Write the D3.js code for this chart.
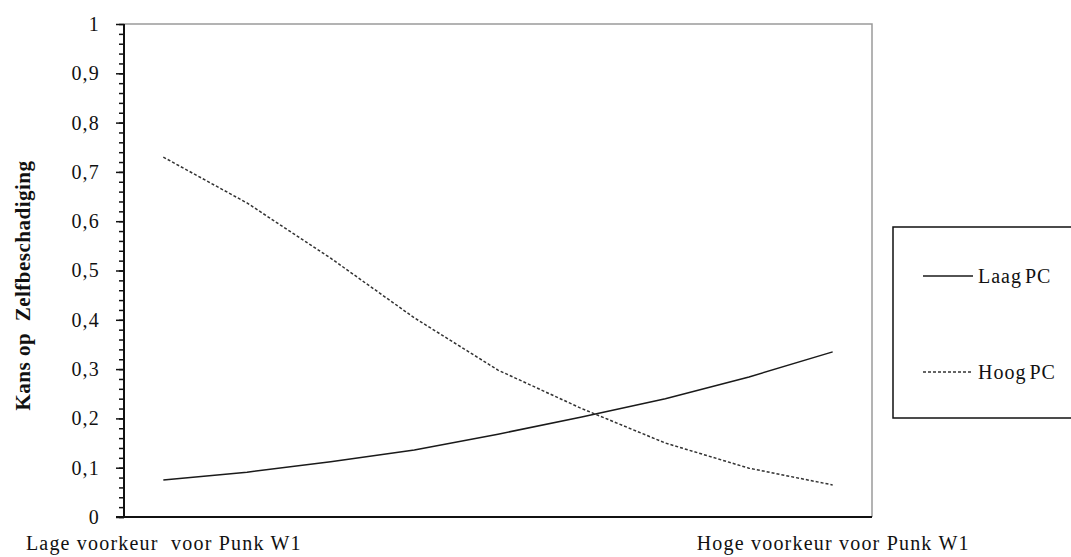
<!DOCTYPE html>
<html>
<head>
<meta charset="utf-8">
<script src="https://cdn.jsdelivr.net/npm/d3@7"></script>
<style>
  html, body { margin: 0; padding: 0; background: #fff; }
</style>
</head>
<body>
<script>
(function() {

  // data
  var xLabels = ["Lage voorkeur  voor Punk W1", "", "", "", "", "", "", "", "Hoge voorkeur voor Punk W1"];
  var laagPC = [0.075, 0.091, 0.112, 0.136, 0.168, 0.203, 0.240, 0.284, 0.335];
  var hoogPC = [0.730, 0.637, 0.525, 0.404, 0.298, 0.220, 0.150, 0.099, 0.065];
  var yTicks = [0, 0.1, 0.2, 0.3, 0.4, 0.5, 0.6, 0.7, 0.8, 0.9, 1];
  var seriesNames = ["Laag PC", "Hoog PC"];

  var width = 1071;
  var height = 557;
  var plotLeft = 124;
  var plotRight = 872;
  var plotTop = 24;
  var plotBottom = 517;
  var serif = '"Liberation Serif", "Times New Roman", serif';

  var svg = d3.select('body')
    .append('svg')
      .attr('width', width)
      .attr('height', height);

  var nl = d3.formatLocale({decimal: ",", thousands: ".", grouping: [3], currency: ["€", ""]});

  var x = d3.scalePoint()
    .domain(d3.range(xLabels.length))
    .range([plotLeft, plotRight])
    .padding(0.47);

  var y = d3.scaleLinear()
    .domain([0, 1])
    .range([plotBottom, plotTop]);

  // grey frame top + right
  svg.append('path')
    .attr('d', 'M' + plotLeft + ',' + plotTop + 'H' + plotRight + 'V' + plotBottom)
    .attr('fill', 'none')
    .attr('stroke', '#9a9a9a')
    .attr('stroke-width', 1.5);

  // minor ticks
  var minor = svg.append('g')
    .attr('transform', 'translate(' + plotLeft + ',0)')
    .call(d3.axisLeft(y)
      .tickValues(d3.range(0, 1.0001, 0.02))
      .tickSize(5)
      .tickFormat(''));
  minor.select('.domain').remove();
  minor.selectAll('line').attr('stroke', '#111').attr('stroke-width', 1.5);

  // major ticks + labels
  var yAxis = svg.append('g')
    .attr('transform', 'translate(' + plotLeft + ',0)')
    .call(d3.axisLeft(y)
      .tickValues(yTicks)
      .tickSize(8)
      .tickPadding(16)
      .tickFormat(nl.format('~g')));
  yAxis.select('.domain').remove();
  yAxis.selectAll('line').attr('stroke', '#111').attr('stroke-width', 1.5);
  yAxis.selectAll('text')
    .style('font-family', serif)
    .style('font-size', '20px')
    .style('letter-spacing', '1.2px')
    .attr('fill', '#111');

  // axis lines
  svg.append('line')
    .attr('x1', plotLeft).attr('x2', plotLeft)
    .attr('y1', plotTop).attr('y2', plotBottom + 1)
    .attr('stroke', '#111').attr('stroke-width', 2);
  svg.append('line')
    .attr('x1', plotLeft - 8).attr('x2', plotRight)
    .attr('y1', plotBottom).attr('y2', plotBottom)
    .attr('stroke', '#111').attr('stroke-width', 2);

  // x labels (first and last point only)
  var xAxis = svg.append('g')
    .attr('transform', 'translate(0,' + plotBottom + ')')
    .call(d3.axisBottom(x)
      .tickValues([0, xLabels.length - 1])
      .tickSize(0)
      .tickPadding(19)
      .tickFormat(function(i) { return xLabels[i]; }));
  xAxis.select('.domain').remove();
  xAxis.selectAll('text')
    .style('font-family', serif)
    .style('font-size', '20px')
    .style('letter-spacing', '1.2px')
    .style('white-space', 'pre')
    .attr('fill', '#111');

  // y title
  svg.append('text')
    .attr('transform', 'translate(30,' + ((plotTop + plotBottom) / 2 + 15) + ') rotate(-90)')
    .attr('text-anchor', 'middle')
    .attr('fill', '#111')
    .style('font-family', serif)
    .style('font-size', '21px')
    .style('font-weight', 'bold')
    .style('letter-spacing', '0.5px')
    .style('white-space', 'pre')
    .text('Kans op  Zelfbeschadiging');

  var line = d3.line()
    .x(function(d, i) { return x(i); })
    .y(function(d) { return y(d); });

  var styles = [
    {stroke: '#1a1a1a', dash: null},
    {stroke: '#333', dash: '3,2'}
  ];

  [laagPC, hoogPC].forEach(function(serie, k) {
    svg.append('path')
      .datum(serie)
      .attr('d', line)
      .attr('fill', 'none')
      .attr('stroke', styles[k].stroke)
      .attr('stroke-width', 1.5)
      .attr('stroke-dasharray', styles[k].dash);
  });

  // legend
  var legend = svg.append('g');
  legend.append('rect')
    .attr('x', 893).attr('y', 227)
    .attr('width', 200).attr('height', 191)
    .attr('fill', '#fff')
    .attr('stroke', '#111')
    .attr('stroke-width', 1.5);

  seriesNames.forEach(function(name, k) {
    var ly = 276 + k * 96;
    legend.append('line')
      .attr('x1', 923).attr('x2', 973)
      .attr('y1', ly).attr('y2', ly)
      .attr('stroke', styles[k].stroke)
      .attr('stroke-width', 1.5)
      .attr('stroke-dasharray', styles[k].dash);
    legend.append('text')
      .attr('x', 978)
      .attr('y', ly + 7)
      .attr('fill', '#111')
      .style('font-family', serif)
      .style('font-size', '20px')
      .style('letter-spacing', '1px')
      .style('word-spacing', '-3px')
      .text(name);
  });

})();
</script>
</body>
</html>
